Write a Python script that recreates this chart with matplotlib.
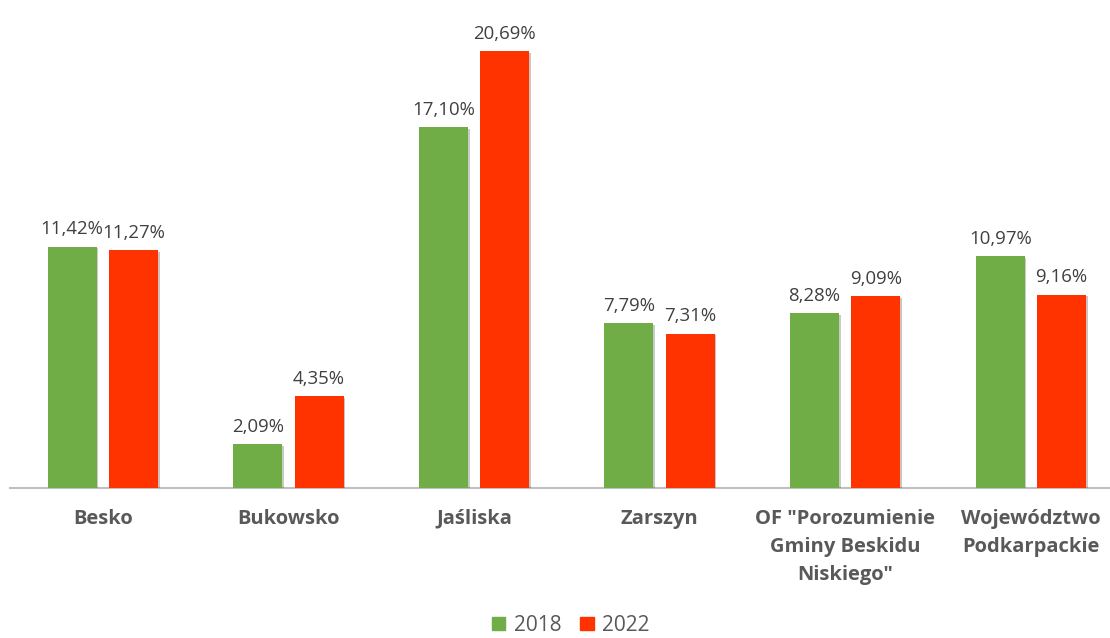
import numpy as np
import matplotlib.pyplot as plt
import matplotlib.patheffects as pe
from matplotlib.patches import Patch

plt.rcParams['font.family'] = ['Open Sans', 'DejaVu Sans']

# Data
categories = ['Besko', 'Bukowsko', 'Jaśliska', 'Zarszyn',
              'OF "Porozumienie\nGminy Beskidu\nNiskiego"',
              'Województwo\nPodkarpackie']
vals_2018 = [11.42, 2.09, 17.10, 7.79, 8.28, 10.97]
vals_2022 = [11.27, 4.35, 20.69, 7.31, 9.09, 9.16]
series = ['2018', '2022']

green = '#70AD47'
red = '#FF3300'

fig = plt.figure(figsize=(11.1, 6.38), dpi=100)
ax = fig.add_axes([10 / 1110, 150 / 638, 1100 / 1110, 488 / 638])

x = np.arange(len(categories))
w = 0.264
off = 0.165
shadow = [pe.SimplePatchShadow(offset=(1.2, -1.2), alpha=0.25), pe.Normal()]

b1 = ax.bar(x - off, vals_2018, w, color=green, path_effects=shadow, zorder=3)
b2 = ax.bar(x + off, vals_2022, w, color=red, path_effects=shadow, zorder=3)

def fmt(v):
    return f'{v:.2f}%'.replace('.', ',')

for bars, vals in ((b1, vals_2018), (b2, vals_2022)):
    for bar, v in zip(bars, vals):
        ax.annotate(fmt(v), (bar.get_x() + bar.get_width() / 2, v),
                    xytext=(0, 6), textcoords='offset points',
                    ha='center', va='bottom', fontsize=13.4, color='#404040')

ax.set_xlim(-0.5, -0.5 + 1100 / 185.6)
ax.set_ylim(0, 488 / 21.12)
ax.set_yticks([])
ax.set_xticks(x)
ax.set_xticklabels(categories, fontsize=14.5, fontweight='bold', color='#595959',
                   linespacing=1.55, va='top')
ax.tick_params(axis='x', length=0, pad=15)
for s in ['top', 'right', 'left']:
    ax.spines[s].set_visible(False)
ax.spines['bottom'].set_color('#BFBFBF')
ax.spines['bottom'].set_linewidth(1.5)

handles = [Patch(color=green, label=series[0]), Patch(color=red, label=series[1])]
fig.legend(handles=handles, loc='lower center', bbox_to_anchor=(0.514, -0.026),
           ncol=2, frameon=False, fontsize=15, labelcolor='#595959',
           handlelength=0.65, handleheight=0.65, handletextpad=0.4, columnspacing=0.9)

fig.savefig('out.png', dpi=100)
